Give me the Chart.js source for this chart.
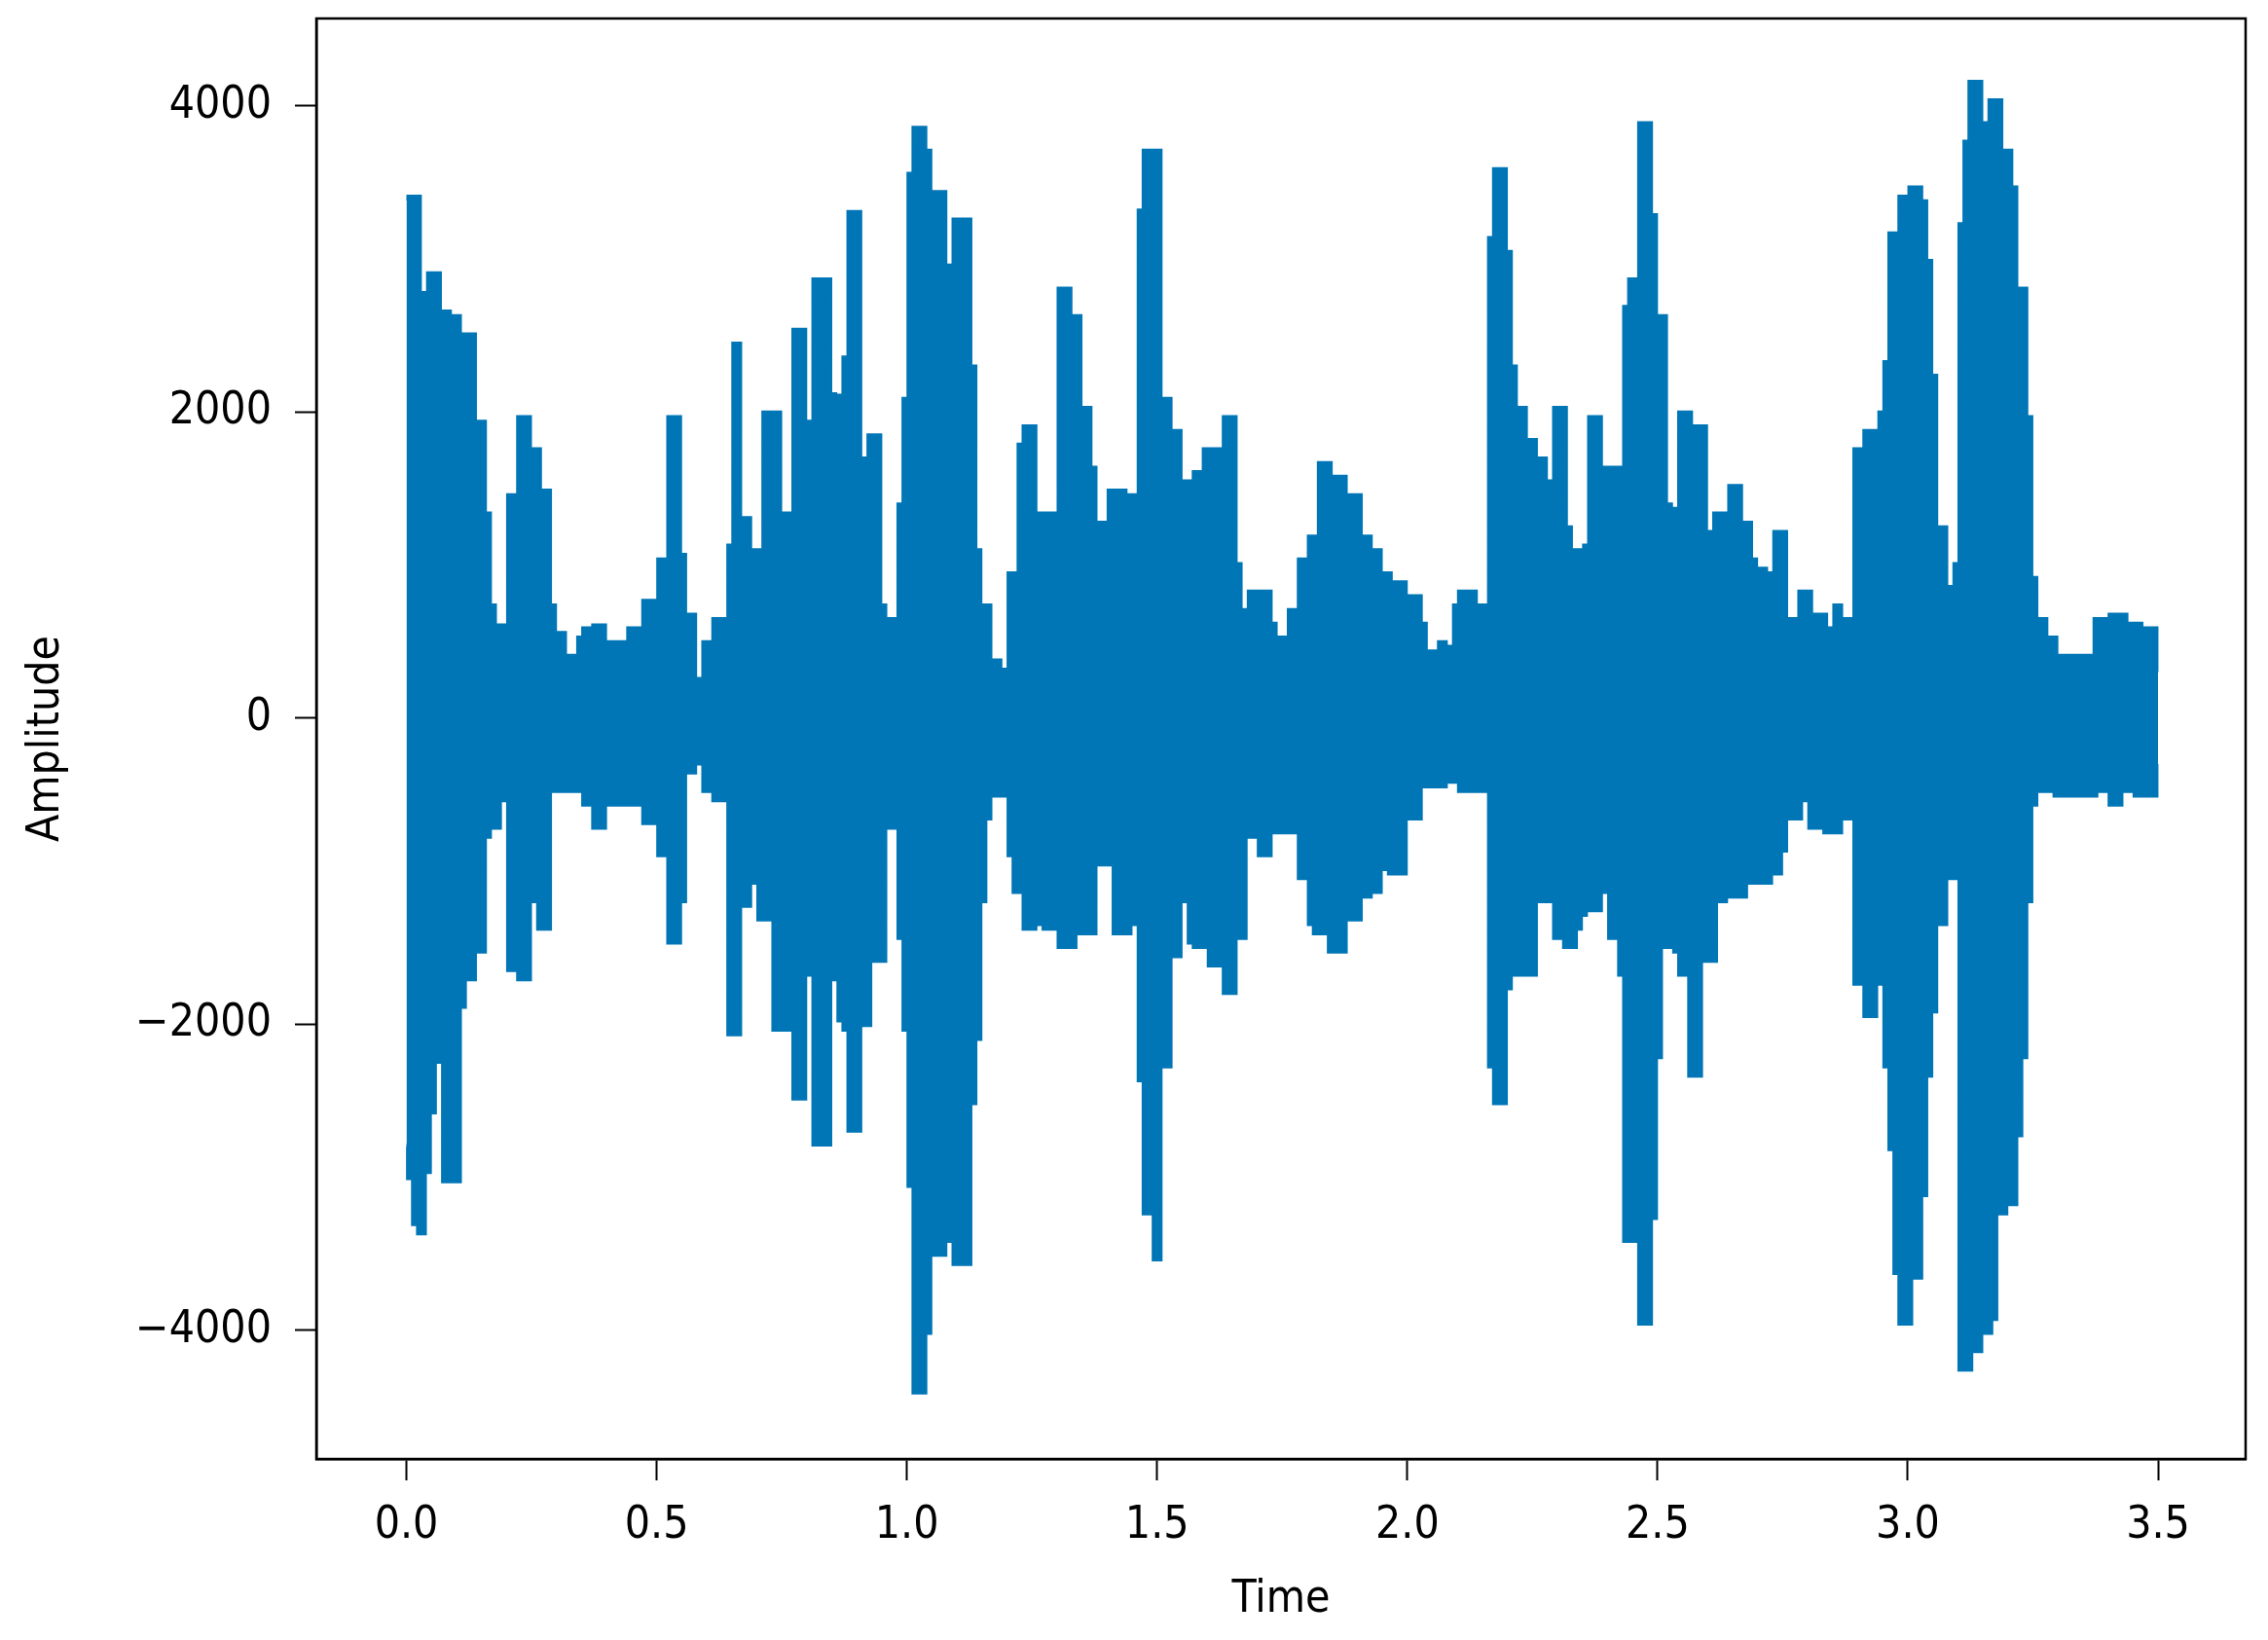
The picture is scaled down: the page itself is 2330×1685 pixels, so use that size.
<!DOCTYPE html>
<html>
<head>
<meta charset="utf-8">
<script src="https://cdn.jsdelivr.net/npm/chart.js@4.4.1/dist/chart.umd.min.js"></script>
<style>
    html, body { margin: 0; padding: 0; background: #fff; }
</style>
</head>
<body>
<canvas id="grafico" width="2330" height="1685"></canvas>
<script>
// envolvente de la señal, una muestra cada 0.01 s
const tiempos = [
    0.00, 0.01, 0.02, 0.03, 0.04, 0.05, 0.06, 0.07, 0.08, 0.09,
    0.10, 0.11, 0.12, 0.13, 0.14, 0.15, 0.16, 0.17, 0.18, 0.19,
    0.20, 0.21, 0.22, 0.23, 0.24, 0.25, 0.26, 0.27, 0.28, 0.29,
    0.30, 0.31, 0.32, 0.33, 0.34, 0.35, 0.36, 0.37, 0.38, 0.39,
    0.40, 0.41, 0.42, 0.43, 0.44, 0.45, 0.46, 0.47, 0.48, 0.49,
    0.50, 0.51, 0.52, 0.53, 0.54, 0.55, 0.56, 0.57, 0.58, 0.59,
    0.60, 0.61, 0.62, 0.63, 0.64, 0.65, 0.66, 0.67, 0.68, 0.69,
    0.70, 0.71, 0.72, 0.73, 0.74, 0.75, 0.76, 0.77, 0.78, 0.79,
    0.80, 0.81, 0.82, 0.83, 0.84, 0.85, 0.86, 0.87, 0.88, 0.89,
    0.90, 0.91, 0.92, 0.93, 0.94, 0.95, 0.96, 0.97, 0.98, 0.99,
    1.00, 1.01, 1.02, 1.03, 1.04, 1.05, 1.06, 1.07, 1.08, 1.09,
    1.10, 1.11, 1.12, 1.13, 1.14, 1.15, 1.16, 1.17, 1.18, 1.19,
    1.20, 1.21, 1.22, 1.23, 1.24, 1.25, 1.26, 1.27, 1.28, 1.29,
    1.30, 1.31, 1.32, 1.33, 1.34, 1.35, 1.36, 1.37, 1.38, 1.39,
    1.40, 1.41, 1.42, 1.43, 1.44, 1.45, 1.46, 1.47, 1.48, 1.49,
    1.50, 1.51, 1.52, 1.53, 1.54, 1.55, 1.56, 1.57, 1.58, 1.59,
    1.60, 1.61, 1.62, 1.63, 1.64, 1.65, 1.66, 1.67, 1.68, 1.69,
    1.70, 1.71, 1.72, 1.73, 1.74, 1.75, 1.76, 1.77, 1.78, 1.79,
    1.80, 1.81, 1.82, 1.83, 1.84, 1.85, 1.86, 1.87, 1.88, 1.89,
    1.90, 1.91, 1.92, 1.93, 1.94, 1.95, 1.96, 1.97, 1.98, 1.99,
    2.00, 2.01, 2.02, 2.03, 2.04, 2.05, 2.06, 2.07, 2.08, 2.09,
    2.10, 2.11, 2.12, 2.13, 2.14, 2.15, 2.16, 2.17, 2.18, 2.19,
    2.20, 2.21, 2.22, 2.23, 2.24, 2.25, 2.26, 2.27, 2.28, 2.29,
    2.30, 2.31, 2.32, 2.33, 2.34, 2.35, 2.36, 2.37, 2.38, 2.39,
    2.40, 2.41, 2.42, 2.43, 2.44, 2.45, 2.46, 2.47, 2.48, 2.49,
    2.50, 2.51, 2.52, 2.53, 2.54, 2.55, 2.56, 2.57, 2.58, 2.59,
    2.60, 2.61, 2.62, 2.63, 2.64, 2.65, 2.66, 2.67, 2.68, 2.69,
    2.70, 2.71, 2.72, 2.73, 2.74, 2.75, 2.76, 2.77, 2.78, 2.79,
    2.80, 2.81, 2.82, 2.83, 2.84, 2.85, 2.86, 2.87, 2.88, 2.89,
    2.90, 2.91, 2.92, 2.93, 2.94, 2.95, 2.96, 2.97, 2.98, 2.99,
    3.00, 3.01, 3.02, 3.03, 3.04, 3.05, 3.06, 3.07, 3.08, 3.09,
    3.10, 3.11, 3.12, 3.13, 3.14, 3.15, 3.16, 3.17, 3.18, 3.19,
    3.20, 3.21, 3.22, 3.23, 3.24, 3.25, 3.26, 3.27, 3.28, 3.29,
    3.30, 3.31, 3.32, 3.33, 3.34, 3.35, 3.36, 3.37, 3.38, 3.39,
    3.40, 3.41, 3.42, 3.43, 3.44, 3.45, 3.46, 3.47, 3.48, 3.49,
    3.50
]

const maximos = [
    3400, 3400, 3400, 2770, 2560, 2900, 2900, 2650, 2650, 2620,
    2620, 2470, 2500, 2500, 1930, 1930, 1330, 730, 600, 600,
    600, 1450, 1450, 1960, 1960, 1750, 1750, 1480, 1480, 730,
    550, 550, 400, 400, 400, 520, 580, 580, 600, 600,
    490, 490, 490, 490, 490, 580, 580, 580, 760, 760,
    760, 1030, 1030, 1960, 1960, 1060, 670, 670, 250, 250,
    490, 490, 640, 640, 640, 1120, 2440, 1300, 1300, 1090,
    1090, 1090, 1990, 1990, 1990, 1330, 1330, 900, 2530, 2530,
    1930, 1930, 2860, 2860, 2860, 2110, 1500, 2100, 2350, 3300,
    3300, 1690, 1420, 1840, 1840, 730, 640, 640, 640, 1390,
    2080, 3550, 3850, 3850, 3700, 3430, 3430, 3430, 2950, 2560,
    3250, 3250, 3250, 2290, 1090, 730, 730, 370, 370, 310,
    310, 940, 940, 1780, 1900, 1900, 1090, 1330, 1330, 1330,
    1120, 2800, 2800, 2620, 2620, 2020, 2020, 1630, 1270, 1270,
    850, 1480, 1480, 1480, 1330, 1450, 1450, 3310, 3700, 3700,
    3700, 2080, 2080, 1870, 1870, 1540, 1540, 1120, 1600, 1420,
    1750, 1750, 1750, 1660, 1960, 1960, 1000, 700, 700, 820,
    820, 820, 820, 610, 520, 520, 520, 700, 700, 1030,
    1030, 1180, 1180, 1660, 1660, 1480, 1570, 1570, 1300, 1450,
    1450, 1180, 1180, 1090, 1090, 940, 940, 880, 880, 880,
    790, 790, 790, 610, 430, 430, 430, 490, 460, 460,
    730, 820, 820, 820, 730, 730, 730, 3130, 3580, 3580,
    3040, 2290, 2020, 2020, 1810, 1810, 1690, 1690, 1270, 1540,
    2020, 2020, 1240, 1090, 1090, 1090, 1120, 1960, 1960, 1540,
    1630, 1630, 1630, 1630, 2680, 2860, 2590, 3880, 3880, 3280,
    2620, 2620, 1390, 1360, 1360, 1990, 1990, 1540, 1900, 1900,
    1210, 1210, 1330, 1330, 1150, 1510, 1510, 1270, 1270, 1030,
    970, 970, 940, 940, 1210, 1210, 640, 640, 640, 820,
    820, 670, 670, 670, 580, 580, 730, 640, 640, 640,
    1750, 1750, 1870, 1870, 1720, 1990, 2320, 3160, 3160, 3400,
    3400, 3460, 3460, 3370, 2980, 2230, 1240, 1240, 850, 820,
    1000, 3220, 3760, 4150, 4150, 3880, 3880, 4030, 4030, 3700,
    3700, 3460, 2800, 2800, 1960, 910, 640, 640, 520, 520,
    400, 400, 400, 400, 400, 400, 400, 400, 640, 640,
    580, 670, 670, 670, 610, 610, 610, 580, 580, 580,
    300
]

const minimos = [
    -2800, -3000, -3300, -3360, -2960, -2570, -2240, -2240, -3020, -3020,
    -3020, -1880, -1700, -1700, -1520, -1520, -770, -710, -710, -530,
    -530, -1640, -1640, -1700, -1700, -1190, -1190, -1370, -1370, -470,
    -470, -470, -470, -290, -470, -470, -560, -560, -710, -710,
    -560, -560, -560, -560, -560, -560, -560, -500, -680, -680,
    -680, -890, -890, -1460, -1460, -1190, -350, -350, -290, -290,
    -470, -470, -530, -530, -530, -2060, -2060, -1220, -1220, -1070,
    -1070, -1310, -1310, -1310, -2030, -2030, -2030, -1790, -2480, -2480,
    -1670, -1670, -2780, -2780, -2780, -1310, -1700, -1970, -2030, -2690,
    -2690, -2000, -2000, -1550, -1580, -1580, -590, -710, -710, -1430,
    -2030, -3050, -4400, -4400, -4010, -3500, -3500, -3500, -3410, -3410,
    -3560, -3560, -3560, -2510, -2090, -1190, -650, -500, -500, -500,
    -380, -890, -1130, -1130, -1370, -1370, -1340, -1340, -1370, -1370,
    -1370, -1490, -1490, -1490, -1400, -1400, -1400, -1400, -950, -950,
    -950, -950, -1400, -1400, -1400, -1340, -1340, -2360, -3230, -3230,
    -3530, -2270, -2270, -1550, -1550, -1190, -1190, -1460, -1490, -1490,
    -1490, -1610, -1610, -1430, -1790, -1790, -1430, -1430, -770, -770,
    -770, -890, -890, -740, -740, -740, -740, -740, -740, -1040,
    -1040, -1340, -1400, -1400, -1400, -1520, -1520, -1520, -1310, -1310,
    -1310, -1160, -1160, -1130, -1130, -980, -980, -1010, -1010, -1010,
    -650, -650, -650, -440, -440, -440, -440, -440, -410, -410,
    -410, -470, -470, -470, -470, -470, -470, -2270, -2510, -2510,
    -1760, -1670, -1670, -1670, -1670, -1670, -1190, -1190, -1190, -1190,
    -1430, -1430, -1490, -1490, -1370, -1280, -1250, -1250, -1250, -1130,
    -1130, -1430, -1430, -1670, -3410, -3410, -3290, -3950, -3950, -3260,
    -2210, -1490, -1490, -1490, -1520, -1670, -1670, -2330, -2330, -1580,
    -1580, -1580, -1190, -1190, -1160, -1160, -1160, -1160, -1070, -1070,
    -1070, -1070, -1070, -1010, -1010, -860, -650, -650, -650, -530,
    -530, -710, -710, -710, -740, -740, -740, -650, -650, -650,
    -1730, -1730, -1940, -1940, -1730, -1730, -2270, -2810, -3620, -3950,
    -3950, -3650, -3650, -3110, -2330, -1910, -1340, -1340, -1040, -1040,
    -1040, -4250, -4250, -4130, -4130, -4010, -4010, -3920, -3230, -3230,
    -3170, -3170, -2720, -2210, -1190, -560, -470, -470, -470, -470,
    -500, -500, -500, -500, -500, -500, -500, -500, -470, -470,
    -470, -560, -560, -470, -470, -470, -500, -500, -500, -500,
    -300
]

const ticksX = [0.0, 0.5, 1.0, 1.5, 2.0, 2.5, 3.0, 3.5]
const ticksY = [-4000, -2000, 0, 2000, 4000]

const azul = "#0076b6"
const fuente = { family: "'DejaVu Sans Condensed', 'DejaVu Sans', sans-serif", size: 46 }

const puntosMax = tiempos.map((t, i) => ({ x: t, y: maximos[i] }))
const puntosMin = tiempos.map((t, i) => ({ x: t, y: minimos[i] }))

// recuadro completo alrededor del area del grafico
const marco = {
    id: "marco",
    afterDatasetsDraw(chart) {
        const { ctx, chartArea: a } = chart
        ctx.save()
        ctx.strokeStyle = "#000"
        ctx.lineWidth = 2.5
        ctx.strokeRect(a.left, a.top, a.right - a.left, a.bottom - a.top)
        ctx.restore()
    }
}

new Chart(document.getElementById("grafico"), {
    type: "line",
    data: {
        datasets: [{
            data: puntosMax,
            borderColor: azul,
            backgroundColor: azul,
            borderWidth: 6,
            stepped: "middle",
            pointRadius: 0,
            fill: "+1"
        }, {
            data: puntosMin,
            borderColor: azul,
            backgroundColor: azul,
            borderWidth: 6,
            stepped: "middle",
            pointRadius: 0,
            fill: false
        }]
    },
    plugins: [marco],
    options: {
        responsive: false,
        devicePixelRatio: 1,
        animation: false,
        layout: { padding: { top: 19, right: 23, left: 0, bottom: 0 } },
        plugins: {
            legend: { display: false },
            tooltip: { enabled: false }
        },
        scales: {
            x: {
                type: "linear",
                min: -0.18,
                max: 3.675,
                afterBuildTicks: s => { s.ticks = ticksX.map(v => ({ value: v })) },
                afterFit: s => {
                    s.height = 186
                    s.paddingLeft = 0
                    s.paddingRight = 0
                },
                ticks: {
                    callback: v => v.toFixed(1),
                    font: fuente,
                    color: "#000",
                    padding: 19,
                    maxRotation: 0
                },
                grid: { drawOnChartArea: false, tickLength: 22, tickWidth: 2, tickColor: "#000" },
                border: { display: true, color: "#000", width: 2.5 },
                title: { display: true, text: "Time", font: fuente, color: "#000", padding: 13 }
            },
            y: {
                type: "linear",
                min: -4840,
                max: 4570,
                afterBuildTicks: s => { s.ticks = ticksY.map(v => ({ value: v })) },
                afterFit: s => {
                    s.width = 325
                    s.paddingTop = 0
                    s.paddingBottom = 0
                },
                ticks: {
                    callback: v => (v < 0 ? "\u2212" + Math.abs(v) : String(v)),
                    font: fuente,
                    color: "#000",
                    padding: 24
                },
                grid: { drawOnChartArea: false, tickLength: 22, tickWidth: 2, tickColor: "#000" },
                border: { display: true, color: "#000", width: 2.5 },
                title: { display: true, text: "Amplitude", font: fuente, color: "#000", padding: 20 }
            }
        }
    }
})
</script>
</body>
</html>
